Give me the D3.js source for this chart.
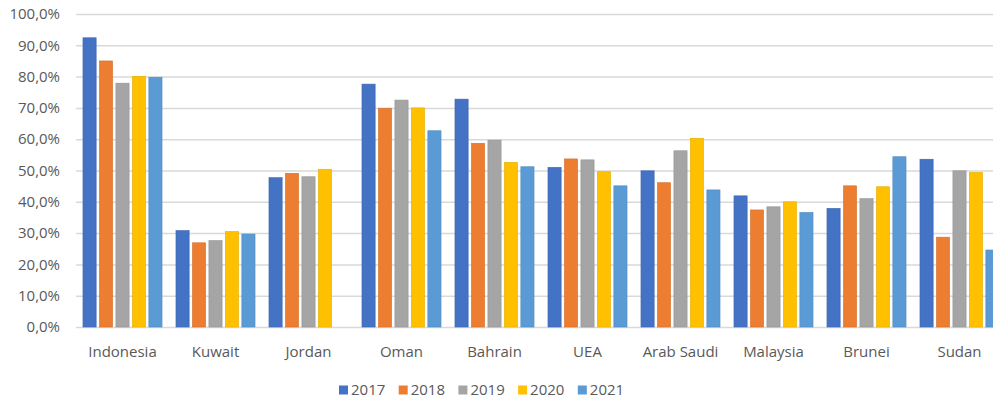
<!DOCTYPE html>
<html>
<head>
<meta charset="utf-8">
<script src="https://cdn.jsdelivr.net/npm/d3@7"></script>
<style>
  body { margin: 0; background: #fff; }
  text { font-family: "Open Sans", "Noto Sans", sans-serif; fill: #595959; }
</style>
</head>
<body>
<div id="chart"></div>
<script>
const countries = ["Indonesia", "Kuwait", "Jordan", "Oman", "Bahrain", "UEA", "Arab Saudi", "Malaysia", "Brunei", "Sudan"];
const years = ["2017", "2018", "2019", "2020", "2021"];
const colors = ["#4472C4", "#ED7D31", "#A5A5A5", "#FFC000", "#5B9BD5"];

// percent values per year, same order as countries
const v2017 = [92.4, 30.8, 47.7, 77.6, 72.8, 51.0, 49.9, 41.9, 37.9, 53.6];
const v2018 = [85.0, 26.9, 49.1, 69.9, 58.7, 53.7, 46.1, 37.4, 45.1, 28.7];
const v2019 = [77.9, 27.6, 48.0, 72.5, 59.7, 53.4, 56.3, 38.4, 41.0, 49.9];
const v2020 = [80.1, 30.5, 50.4, 70.0, 52.6, 49.6, 60.3, 40.0, 44.8, 49.4];
const v2021 = [79.8, 29.7, 0, 62.7, 51.2, 45.1, 43.8, 36.6, 54.4, 24.6];
const series = [v2017, v2018, v2019, v2020, v2021];

const yTicks = [0, 10, 20, 30, 40, 50, 60, 70, 80, 90, 100];

function init() {
    const width = 993;
    const height = 405;
    const left = 76, top = 14, bottom = 327;
    const fontSize = "15px";

    const svg = d3.select("#chart")
        .append("svg")
        .attr("width", width)
        .attr("height", height);

    const x = d3.scaleBand()
        .domain(countries)
        .range([left, left + 930])
        .paddingInner(0.15)
        .paddingOuter(0.075);

    const xInner = d3.scaleBand()
        .domain(years)
        .range([0, x.bandwidth()])
        .paddingInner(0.2);

    const y = d3.scaleLinear().domain([0, 100]).range([bottom, top]);

    // gridlines
    svg.append("g")
        .selectAll("line")
        .data(yTicks)
        .enter()
        .append("line")
        .attr("x1", left)
        .attr("x2", width)
        .attr("y1", d => y(d) + 0.5)
        .attr("y2", d => y(d) + 0.5)
        .attr("stroke", "#d9d9d9")
        .attr("stroke-width", 1.5);

    // y labels
    svg.append("g")
        .selectAll("text")
        .data(yTicks)
        .enter()
        .append("text")
        .attr("x", 60)
        .attr("y", d => y(d))
        .attr("dy", "0.35em")
        .attr("text-anchor", "end")
        .style("font-size", fontSize)
        .text(d => d.toFixed(1).replace(".", ",") + "%");

    // bars
    const groups = svg.append("g")
        .selectAll("g")
        .data(countries)
        .enter()
        .append("g")
        .attr("transform", d => `translate(${x(d)},0)`);

    groups.selectAll("rect")
        .data((c, i) => years.map((yr, j) => ({ year: yr, value: series[j][i], color: colors[j] })))
        .enter()
        .append("rect")
        .attr("x", d => xInner(d.year))
        .attr("width", xInner.bandwidth())
        .attr("y", d => y(d.value))
        .attr("height", d => bottom - y(d.value))
        .attr("fill", d => d.color)
        .attr("stroke", d => d3.color(d.color).darker(0.3))
        .attr("stroke-width", 0.6);

    // category labels
    svg.append("g")
        .selectAll("text")
        .data(countries)
        .enter()
        .append("text")
        .attr("x", d => x(d) + x.bandwidth() / 2)
        .attr("y", 352)
        .attr("dy", "0.35em")
        .attr("text-anchor", "middle")
        .style("font-size", fontSize)
        .text(d => d);

    // legend
    const legend = svg.append("g")
        .selectAll("g")
        .data(years)
        .enter()
        .append("g")
        .attr("transform", (d, i) => `translate(${339 + i * 59.7},390)`);

    legend.append("rect")
        .attr("x", 0)
        .attr("y", -4.5)
        .attr("width", 9)
        .attr("height", 9)
        .attr("fill", (d, i) => colors[i]);

    legend.append("text")
        .attr("x", 12)
        .attr("y", 0)
        .attr("dy", "0.35em")
        .style("font-size", fontSize)
        .text(d => d);
}

window.onload = init;
</script>
</body>
</html>
